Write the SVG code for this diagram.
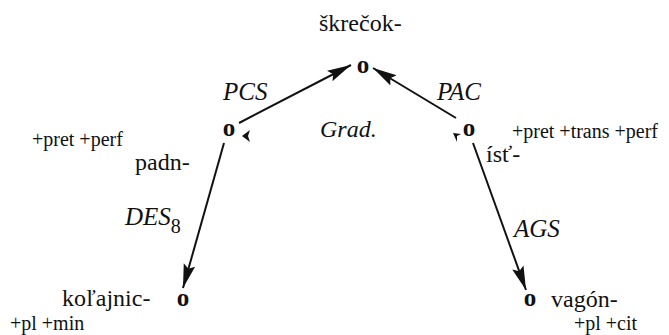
<svg xmlns="http://www.w3.org/2000/svg" width="669" height="335" viewBox="0 0 669 335">
<defs>
<marker id="ah" markerUnits="userSpaceOnUse" markerWidth="26" markerHeight="14" refX="24" refY="6" orient="auto">
<path d="M0,0 L24,6 L0,12 L4,6 z" fill="#111"/>
</marker>
</defs>
<rect width="669" height="335" fill="#fff"/>
<g id="connectors" stroke="#111" stroke-width="2" fill="none">
<line x1="239" y1="123" x2="351" y2="65" marker-end="url(#ah)"/>
<line x1="456" y1="118" x2="373" y2="68" marker-end="url(#ah)"/>
<line x1="224" y1="143" x2="183" y2="288" marker-end="url(#ah)"/>
<line x1="473" y1="143" x2="526" y2="290" marker-end="url(#ah)"/>
</g>
<g id="edge-labels">
<text font-family="Liberation Serif" font-size="25" font-style="italic" fill="#111" x="223" y="100">PCS</text>
<text font-family="Liberation Serif" font-size="25" font-style="italic" fill="#111" x="437" y="100">PAC</text>
<text font-family="Liberation Serif" font-size="25" font-style="italic" fill="#111" x="125" y="225">DES<tspan font-style="normal" font-size="20" dy="8">8</tspan></text>
<text font-family="Liberation Serif" font-size="25" font-style="italic" fill="#111" x="514" y="237">AGS</text>
</g>
<g id="node-top">
<text font-family="Liberation Serif" font-size="24" fill="#111" x="319" y="31">škrečok-</text>
<text font-family="Liberation Serif" font-size="25" font-weight="bold" text-anchor="middle" fill="#111" x="363" y="73">o</text>
</g>
<g id="node-left">
<text font-family="Liberation Serif" font-size="25" font-weight="bold" text-anchor="middle" fill="#111" x="229" y="136">o</text>
<path d="M242,136 L250,130 L248,136 L250,142 z" fill="#111"/>
<text font-family="Liberation Serif" font-size="20" fill="#111" x="32" y="146">+pret +perf</text>
<text font-family="Liberation Serif" font-size="24" fill="#111" x="135" y="170">padn-</text>
</g>
<g id="node-right">
<text font-family="Liberation Serif" font-size="25" font-weight="bold" text-anchor="middle" fill="#111" x="469" y="136">o</text>
<path d="M453,133 L461,134 L457,136 L457,142 z" fill="#111"/>
<text font-family="Liberation Serif" font-size="20" fill="#111" x="512" y="138">+pret +trans +perf</text>
<text font-family="Liberation Serif" font-size="24" fill="#111" x="486" y="162">ísť-</text>
</g>
<g id="grad">
<text font-family="Liberation Serif" font-size="24" font-style="italic" fill="#111" x="320" y="137">Grad.</text>
</g>
<g id="node-bottom-left">
<text font-family="Liberation Serif" font-size="24" fill="#111" x="62" y="306">koľajnic-</text>
<text font-family="Liberation Serif" font-size="25" font-weight="bold" text-anchor="middle" fill="#111" x="183" y="306">o</text>
<text font-family="Liberation Serif" font-size="20" fill="#111" x="10" y="330">+pl +min</text>
</g>
<g id="node-bottom-right">
<text font-family="Liberation Serif" font-size="25" font-weight="bold" text-anchor="middle" fill="#111" x="530" y="306">o</text>
<text font-family="Liberation Serif" font-size="24" fill="#111" x="551" y="307">vagón-</text>
<text font-family="Liberation Serif" font-size="20" fill="#111" x="574" y="330">+pl +cit</text>
</g>
</svg>
